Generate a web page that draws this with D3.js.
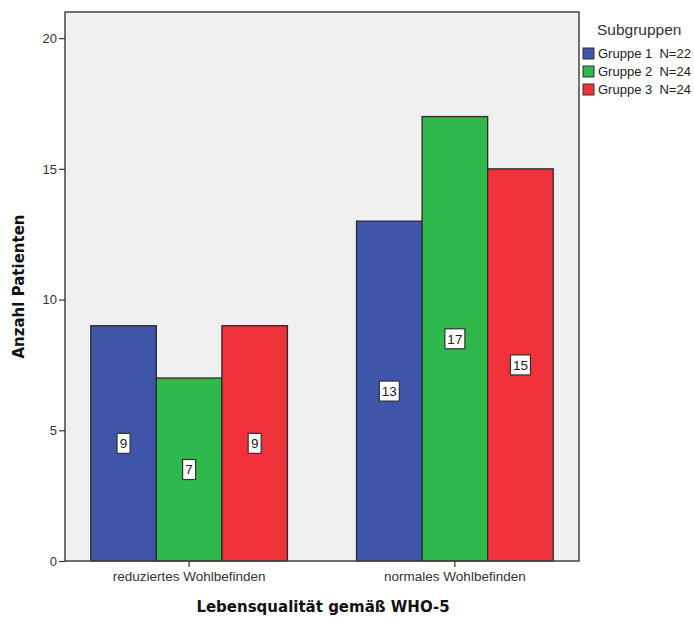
<!DOCTYPE html>
<html>
<head>
<meta charset="utf-8">
<script src="https://cdn.jsdelivr.net/npm/d3@7/dist/d3.min.js"></script>
<style>
  html, body { margin: 0; padding: 0; background: #fff; }
  svg { display: block; }
</style>
</head>
<body>
<svg id="chart" width="694" height="619"></svg>
<script>
// Categories on the x axis (WHO-5 quality of life)
const categories = ["reduziertes Wohlbefinden", "normales Wohlbefinden"];
// Subgroups and their legend labels
const groups = ["Gruppe 1", "Gruppe 2", "Gruppe 3"];
const groupLabels = ["Gruppe 1  N=22", "Gruppe 2  N=24", "Gruppe 3  N=24"];
// Patient counts per subgroup, one value per category
const gruppe1 = [9, 13];
const gruppe2 = [7, 17];
const gruppe3 = [9, 15];
const yTicks = [0, 5, 10, 15, 20];
const colors = ["#3f56a8", "#2fb84b", "#f0323a"];

const series = [gruppe1, gruppe2, gruppe3];
const rows = [];
categories.forEach((c, ci) => {
  groups.forEach((g, gi) => rows.push({ cat: c, group: g, gi, value: series[gi][ci] }));
});

const svg = d3.select("#chart");
const plot = { left: 65, top: 12, right: 579, bottom: 561 };

const x0 = d3.scaleBand()
  .domain(categories)
  .range([plot.left, plot.right])
  .paddingInner(0.26)
  .paddingOuter(0.097);
const x1 = d3.scaleBand()
  .domain(groups)
  .range([0, x0.bandwidth()]);
const y = d3.scaleLinear()
  .domain([0, 21])
  .range([plot.bottom, plot.top]);
const color = d3.scaleOrdinal().domain(groups).range(colors);

const font = "'Liberation Sans', Arial, sans-serif";

// plot background
svg.append("rect")
  .attr("x", plot.left).attr("y", plot.top)
  .attr("width", plot.right - plot.left).attr("height", plot.bottom - plot.top)
  .attr("fill", "#f0f0f0");

// bars
svg.append("g").selectAll("rect")
  .data(rows)
  .join("rect")
  .attr("x", d => x0(d.cat) + x1(d.group))
  .attr("y", d => y(d.value))
  .attr("width", x1.bandwidth())
  .attr("height", d => y(0) - y(d.value))
  .attr("fill", d => color(d.group))
  .attr("stroke", "#2b2b2b")
  .attr("stroke-width", 1.3);

// value labels in white boxes at bar mid-height
const labels = svg.append("g").selectAll("g")
  .data(rows)
  .join("g")
  .attr("transform", d => `translate(${x0(d.cat) + x1(d.group) + x1.bandwidth() / 2},${y(d.value / 2)})`);
labels.append("rect")
  .attr("x", d => String(d.value).length > 1 ? -10 : -6.5)
  .attr("y", -10)
  .attr("width", d => String(d.value).length > 1 ? 20 : 13)
  .attr("height", 20)
  .attr("fill", "#fff")
  .attr("stroke", "#333")
  .attr("stroke-width", 1.2);
labels.append("text")
  .attr("text-anchor", "middle")
  .attr("dy", "0.36em")
  .attr("font-family", font)
  .attr("font-size", 13.5)
  .attr("fill", "#222")
  .text(d => d.value);

// plot frame
svg.append("rect")
  .attr("x", plot.left).attr("y", plot.top)
  .attr("width", plot.right - plot.left).attr("height", plot.bottom - plot.top)
  .attr("fill", "none")
  .attr("stroke", "#444")
  .attr("stroke-width", 1.5);

// y axis
const yAxis = svg.append("g")
  .attr("transform", `translate(${plot.left},0)`)
  .call(d3.axisLeft(y).tickValues(yTicks).tickSize(6).tickPadding(2));
yAxis.select(".domain").remove();
yAxis.selectAll("line").attr("stroke", "#333").attr("stroke-width", 1.2);
yAxis.selectAll("text").attr("font-family", font).attr("font-size", 13).attr("fill", "#333");

// x axis
const xAxis = svg.append("g")
  .attr("transform", `translate(0,${plot.bottom})`)
  .call(d3.axisBottom(x0).tickSize(6).tickPadding(4));
xAxis.select(".domain").remove();
xAxis.selectAll("line").attr("stroke", "#333").attr("stroke-width", 1.2);
xAxis.selectAll("text").attr("font-family", font).attr("font-size", 13.5).attr("fill", "#333");

// axis titles
svg.append("text")
  .attr("x", (plot.left + plot.right) / 2 + 1)
  .attr("y", 612)
  .attr("text-anchor", "middle")
  .attr("font-family", "'DejaVu Sans', Verdana, sans-serif")
  .attr("font-weight", "bold")
  .attr("font-size", 15)
  .attr("fill", "#111")
  .text("Lebensqualität gemäß WHO-5");
svg.append("text")
  .attr("transform", `translate(24,${(plot.top + plot.bottom) / 2}) rotate(-90)`)
  .attr("text-anchor", "middle")
  .attr("font-family", "'DejaVu Sans', Verdana, sans-serif")
  .attr("font-weight", "bold")
  .attr("font-size", 15)
  .attr("fill", "#111")
  .text("Anzahl Patienten");

// legend
const legend = svg.append("g");
legend.append("text")
  .attr("x", 597).attr("y", 35)
  .attr("font-family", font)
  .attr("font-size", 15.5)
  .attr("fill", "#333")
  .text("Subgruppen");
const items = legend.selectAll("g.item")
  .data(groups)
  .join("g")
  .attr("class", "item")
  .attr("transform", (d, i) => `translate(583,${48 + i * 18})`);
items.append("rect")
  .attr("width", 11).attr("height", 11)
  .attr("fill", d => color(d))
  .attr("stroke", "#333").attr("stroke-width", 1);
items.append("text")
  .attr("x", 15).attr("y", 10)
  .attr("font-family", font)
  .attr("font-size", 13)
  .attr("fill", "#222")
  .attr("xml:space", "preserve")
  .style("white-space", "pre")
  .text((d, i) => groupLabels[i]);
</script>
</body>
</html>
